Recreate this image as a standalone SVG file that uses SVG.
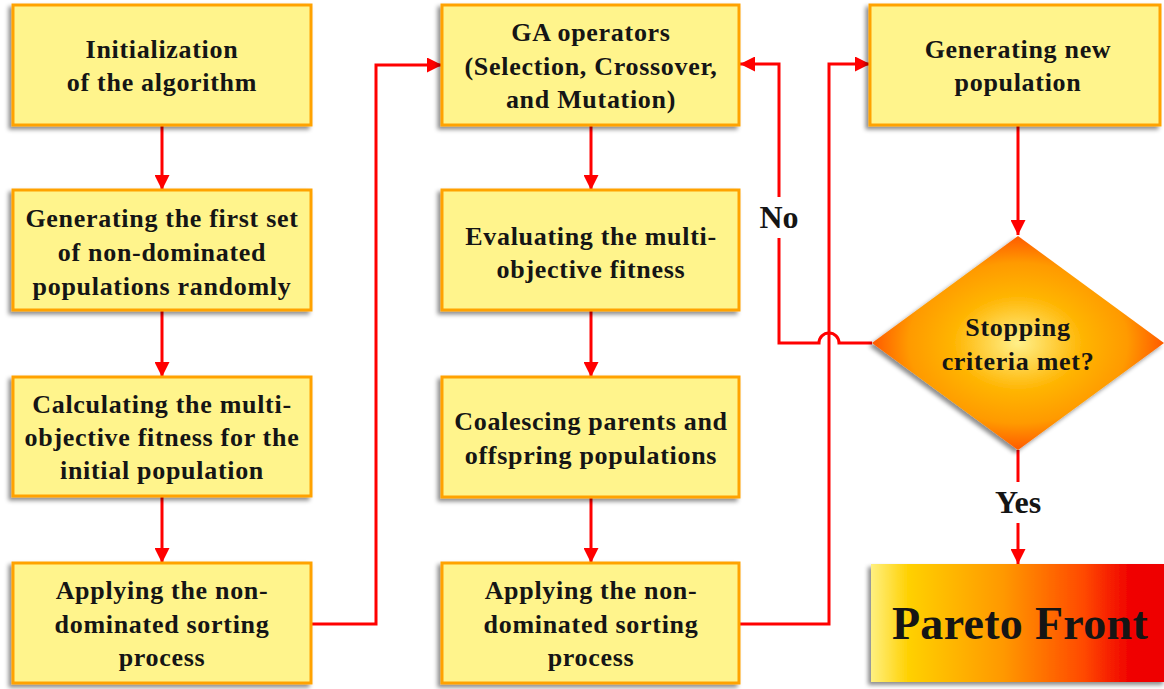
<svg xmlns="http://www.w3.org/2000/svg" width="1164" height="689" viewBox="0 0 1164 689">
<defs>
<style>
.box{fill:#FFF48C;stroke:#FFA200;stroke-width:3;filter:url(#sh);}
.t{font-family:"Liberation Serif","Times New Roman",serif;font-weight:bold;font-size:26px;fill:#151515;text-anchor:middle;letter-spacing:0.7px;}
.lb{font-size:32px;letter-spacing:0px;}
.c{fill:none;stroke:#FF0000;stroke-width:3;}
.a{marker-end:url(#ah);}
</style>
<filter id="sh" x="-10%" y="-10%" width="120%" height="125%">
<feDropShadow dx="-3" dy="3" stdDeviation="2" flood-color="#000" flood-opacity="0.45"/>
</filter>
<marker id="ah" viewBox="0 0 10 10" refX="10" refY="5" markerWidth="5" markerHeight="5" orient="auto" markerUnits="strokeWidth">
<path d="M0,0 L10,5 L0,10 Z" fill="#FF0000"/>
</marker>
<radialGradient id="dg" cx="0.5" cy="0.5" r="0.5">
<stop offset="0" stop-color="#FFF08A"/>
<stop offset="0.45" stop-color="#FFB400"/>
<stop offset="0.75" stop-color="#FF9A00"/>
<stop offset="1" stop-color="#FF5A00"/>
</radialGradient>
<linearGradient id="pg" x1="0" y1="0" x2="1" y2="0">
<stop offset="0" stop-color="#FFF080"/>
<stop offset="0.13" stop-color="#FFD000"/>
<stop offset="0.45" stop-color="#FF9800"/>
<stop offset="0.72" stop-color="#FF4A00"/>
<stop offset="0.88" stop-color="#F00000"/>
<stop offset="1" stop-color="#EE0000"/>
</linearGradient>
</defs>
<rect width="1164" height="689" fill="#fff"/>

<g id="connectors">
<path class="c a" d="M162,125 V190"/>
<path class="c a" d="M162,310 V377"/>
<path class="c a" d="M162,496 V563"/>
<path class="c a" d="M591,125 V190"/>
<path class="c a" d="M591,310 V377"/>
<path class="c a" d="M591,497 V563"/>
<path class="c a" d="M311,624 H376 V65 H442"/>
<path class="c a" d="M739,624 H829 V64 H870"/>
<path class="c a" d="M1018,125 V235"/>
<path class="c a" d="M1018,450 V564"/>
<path class="c a" d="M872,343 H839 A10,10 0 0 0 819,343 H779 V64 H740"/>
<rect x="755" y="197" width="48" height="41" fill="#fff"/>
<text class="t lb" x="779" y="228">No</text>
<rect x="988" y="482" width="60" height="41" fill="#fff"/>
<text class="t lb" x="1018" y="513">Yes</text>
</g>

<g id="n1">
<rect class="box" x="13" y="5" width="298" height="120"/>
<text class="t" x="162" y="58">Initialization</text>
<text class="t" x="162" y="91">of the algorithm</text>
</g>
<g id="n2">
<rect class="box" x="13" y="190" width="298" height="120"/>
<text class="t" x="162" y="227">Generating the first set</text>
<text class="t" x="162" y="261">of non-dominated</text>
<text class="t" x="162" y="295">populations randomly</text>
</g>
<g id="n3">
<rect class="box" x="13" y="377" width="298" height="119"/>
<text class="t" x="162" y="413">Calculating the multi-</text>
<text class="t" x="162" y="446">objective fitness for the</text>
<text class="t" x="162" y="479">initial population</text>
</g>
<g id="n4">
<rect class="box" x="13" y="563" width="298" height="120"/>
<text class="t" x="162" y="599">Applying the non-</text>
<text class="t" x="162" y="633">dominated sorting</text>
<text class="t" x="162" y="666">process</text>
</g>

<g id="n5">
<rect class="box" x="442" y="5" width="297" height="120"/>
<text class="t" x="591" y="41">GA operators</text>
<text class="t" x="591" y="75">(Selection, Crossover,</text>
<text class="t" x="591" y="108">and Mutation)</text>
</g>
<g id="n6">
<rect class="box" x="442" y="190" width="297" height="120"/>
<text class="t" x="591" y="245">Evaluating the multi-</text>
<text class="t" x="591" y="278">objective fitness</text>
</g>
<g id="n7">
<rect class="box" x="442" y="377" width="297" height="120"/>
<text class="t" x="591" y="430">Coalescing parents and</text>
<text class="t" x="591" y="464">offspring populations</text>
</g>
<g id="n8">
<rect class="box" x="442" y="563" width="297" height="120"/>
<text class="t" x="591" y="599">Applying the non-</text>
<text class="t" x="591" y="633">dominated sorting</text>
<text class="t" x="591" y="666">process</text>
</g>

<g id="n9">
<rect class="box" x="870" y="5" width="290" height="120"/>
<text class="t" x="1018" y="58">Generating new</text>
<text class="t" x="1018" y="91">population</text>
</g>
<g id="n10">
<polygon points="1018,236 1164,343 1018,450 872,343" fill="url(#dg)" filter="url(#sh)"/>
<text class="t" x="1018" y="336">Stopping</text>
<text class="t" x="1018" y="370">criteria met?</text>
</g>
<g id="n11">
<rect x="871" y="564" width="295" height="118" fill="url(#pg)" filter="url(#sh)"/>
<text class="t" x="1020" y="639" style="font-size:46px;letter-spacing:0.3px">Pareto Front</text>
</g>
</svg>
